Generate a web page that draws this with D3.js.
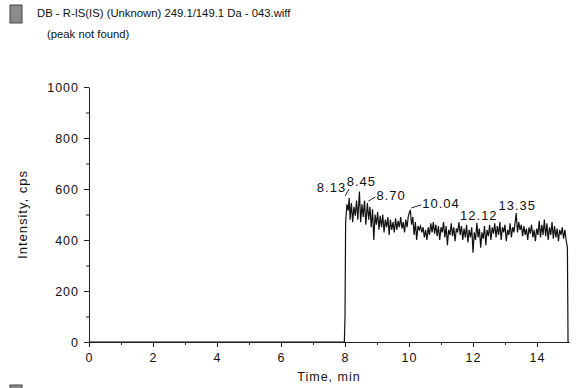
<!DOCTYPE html>
<html>
<head>
<meta charset="utf-8">
<script src="https://cdnjs.cloudflare.com/ajax/libs/d3/7.8.5/d3.min.js"></script>
<style>
  body { margin: 0; background: #fff; }
  text { font-family: "Liberation Sans", Arial, sans-serif; fill: #111; }
</style>
</head>
<body>
<div id="chart"></div>
<script>
// chart values
var titleLine1 = "DB - R-IS(IS) (Unknown) 249.1/149.1 Da - 043.wiff";
var titleLine2 = "(peak not found)";
var xTicks = [0, 2, 4, 6, 8, 10, 12, 14];
var yTicks = [0, 200, 400, 600, 800, 1000];

// trace: [time (min), intensity (cps)]
var trace = [
  [0, 0], [7.98, 0], [8.00, 100], [8.02, 470], [8.06, 540], [8.10, 515], [8.13, 565],
  [8.16, 480], [8.20, 545], [8.24, 470], [8.28, 530], [8.32, 495], [8.36, 555],
  [8.40, 480], [8.45, 590], [8.49, 470], [8.53, 540], [8.57, 490], [8.61, 555],
  [8.65, 460], [8.70, 545], [8.74, 480], [8.78, 530], [8.82, 450], [8.86, 520],
  [8.90, 400], [8.94, 500], [8.98, 460], [9.02, 510], [9.06, 440], [9.10, 495],
  [9.14, 450], [9.18, 500], [9.22, 430], [9.26, 480], [9.30, 450], [9.34, 490],
  [9.38, 420], [9.42, 480], [9.46, 440], [9.50, 470], [9.54, 430], [9.58, 485],
  [9.62, 440], [9.66, 475], [9.70, 450], [9.74, 490], [9.78, 445], [9.82, 470],
  [9.86, 430], [9.90, 480], [9.94, 450], [9.98, 495], [10.04, 518], [10.08, 460],
  [10.12, 490], [10.16, 420], [10.20, 470], [10.24, 400], [10.28, 455], [10.32, 440],
  [10.36, 455], [10.40, 430], [10.44, 450], [10.48, 410], [10.52, 440], [10.56, 400],
  [10.60, 450], [10.64, 420], [10.68, 465], [10.72, 430], [10.76, 470], [10.80, 425],
  [10.84, 460], [10.88, 415], [10.92, 455], [10.96, 400], [11.00, 450], [11.04, 430],
  [11.08, 470], [11.12, 410], [11.16, 455], [11.20, 380], [11.24, 440], [11.28, 420],
  [11.32, 465], [11.36, 415], [11.40, 450], [11.44, 395], [11.48, 445], [11.52, 430],
  [11.56, 470], [11.60, 420], [11.64, 455], [11.68, 400], [11.72, 445], [11.76, 410],
  [11.80, 460], [11.84, 390], [11.88, 440], [11.92, 410], [11.96, 450], [12.00, 350],
  [12.04, 430], [12.08, 400], [12.12, 467], [12.16, 410], [12.20, 445], [12.24, 370],
  [12.28, 430], [12.32, 405], [12.36, 455], [12.40, 380], [12.44, 440], [12.48, 415],
  [12.52, 460], [12.56, 400], [12.60, 450], [12.64, 425], [12.68, 465], [12.72, 410],
  [12.76, 455], [12.80, 420], [12.84, 470], [12.88, 400], [12.92, 450], [12.96, 430],
  [13.00, 460], [13.04, 395], [13.08, 440], [13.12, 420], [13.16, 465], [13.20, 410],
  [13.24, 450], [13.28, 430], [13.35, 506], [13.39, 430], [13.43, 470], [13.47, 440],
  [13.51, 460], [13.55, 415], [13.59, 455], [13.63, 420], [13.67, 445], [13.71, 400],
  [13.75, 450], [13.79, 425], [13.83, 460], [13.87, 410], [13.91, 440], [13.95, 395],
  [13.99, 445], [14.03, 420], [14.07, 475], [14.11, 410], [14.15, 460], [14.19, 420],
  [14.23, 480], [14.27, 415], [14.31, 465], [14.35, 400], [14.39, 450], [14.43, 420],
  [14.47, 470], [14.51, 405], [14.55, 455], [14.59, 410], [14.63, 445], [14.67, 395],
  [14.71, 440], [14.75, 420], [14.79, 450], [14.83, 405], [14.87, 440], [14.91, 400],
  [14.95, 370], [14.96, 190], [14.97, 0], [15, 0]
];

// labelled peaks
var peakTimes = [8.13, 8.45, 8.70, 10.04, 12.12, 13.35];
var peakValues = [565, 590, 545, 518, 467, 506];
var peakLabels = ["8.13", "8.45", "8.70", "10.04", "12.12", "13.35"];

// set the dimensions and margins of the graph
var W = 581, H = 388;
var margin = {top: 87, right: 12, bottom: 46, left: 89},
    width = 480,
    height = 255;

var x = d3.scaleLinear().domain([0, 15]).range([0, width]);
var y = d3.scaleLinear().domain([0, 1000]).range([height, 0]);

var svg = d3.select("#chart").append("svg")
    .attr("width", W)
    .attr("height", H);

// legend swatch + title
svg.append("rect")
    .attr("x", 10).attr("y", 5)
    .attr("width", 12).attr("height", 18)
    .attr("fill", "#8a8a8a")
    .attr("stroke", "#444").attr("stroke-width", 1);

svg.append("text")
    .attr("x", 37).attr("y", 17)
    .style("font-size", "11.3px")
    .text(titleLine1);
svg.append("text")
    .attr("x", 47).attr("y", 38)
    .style("font-size", "11.3px")
    .text(titleLine2);

// second swatch, cut off at the bottom
svg.append("rect")
    .attr("x", 10).attr("y", 385)
    .attr("width", 12).attr("height", 18)
    .attr("fill", "#8a8a8a")
    .attr("stroke", "#444").attr("stroke-width", 1);

var g = svg.append("g")
    .attr("transform", "translate(" + margin.left + "," + margin.top + ")");

// minor ticks
var xMinor = d3.range(1, 15, 2);
var yMinor = d3.range(100, 1000, 200);

g.append("g")
    .attr("class", "axis")
    .attr("transform", "translate(0," + height + ")")
    .call(d3.axisBottom(x).tickValues(xMinor).tickSize(3).tickFormat(""))
    .call(function(a) { a.select(".domain").remove(); });

g.append("g")
    .attr("class", "axis")
    .call(d3.axisLeft(y).tickValues(yMinor).tickSize(3).tickFormat(""))
    .call(function(a) { a.select(".domain").remove(); });

// Add the X Axis
g.append("g")
    .attr("class", "axis")
    .attr("transform", "translate(0," + height + ")")
    .call(d3.axisBottom(x).tickValues(xTicks).tickSize(5).tickPadding(6)
      .tickSizeOuter(0).tickFormat(d3.format("d")));

// Add the Y Axis
g.append("g")
    .attr("class", "axis")
    .call(d3.axisLeft(y).tickValues(yTicks).tickSize(5).tickPadding(5)
      .tickSizeOuter(0).tickFormat(d3.format("d")));

g.selectAll(".axis text")
    .style("font-size", "12.5px")
    .style("letter-spacing", "1px")
    .style("font-family", "'Liberation Sans', Arial, sans-serif");
g.selectAll(".axis path, .axis line").attr("stroke", "#222");

// the trace
var line = d3.line()
    .x(function(d) { return x(d[0]); })
    .y(function(d) { return y(d[1]); });

g.append("path")
    .datum(trace)
    .attr("fill", "none")
    .attr("stroke", "#111")
    .attr("stroke-width", 1.2)
    .attr("d", line);

// peak labels (anchor, dx, dy, leader)
var labelLayout = [
  {anchor: "end", dx: -3, dy: -6, leader: true},
  {anchor: "middle", dx: 2, dy: -6, leader: false},
  {anchor: "start", dx: 9, dy: -3, leader: true},
  {anchor: "start", dx: 12, dy: -2, leader: true},
  {anchor: "middle", dx: 2, dy: -3, leader: false},
  {anchor: "middle", dx: 1, dy: -3, leader: false}
];

peakTimes.forEach(function(t, i) {
  var px = x(t), py = y(peakValues[i]), L = labelLayout[i];
  if (L.leader) {
    var lx = L.anchor === "end" ? px - 4 : px + 1;
    var ex = L.anchor === "end" ? px : px + L.dx - 1;
    g.append("line")
      .attr("x1", lx).attr("y1", py - 2)
      .attr("x2", ex).attr("y2", py + L.dy - 3)
      .attr("stroke", "#222");
  }
  g.append("text")
    .attr("x", px + L.dx)
    .attr("y", py + L.dy)
    .attr("text-anchor", L.anchor)
    .style("font-size", "13px")
    .style("letter-spacing", "1px")
    .text(peakLabels[i]);
});

// axis labels
svg.append("text")
    .attr("transform", "rotate(-90)")
    .attr("x", -(margin.top + height / 2))
    .attr("y", 27)
    .style("text-anchor", "middle")
    .style("font-size", "13px")
    .style("letter-spacing", "1px")
    .text("Intensity, cps");

svg.append("text")
    .attr("x", margin.left + width / 2)
    .attr("y", 381)
    .style("text-anchor", "middle")
    .style("font-size", "12.5px")
    .style("letter-spacing", "1px")
    .text("Time, min");
</script>
</body>
</html>
